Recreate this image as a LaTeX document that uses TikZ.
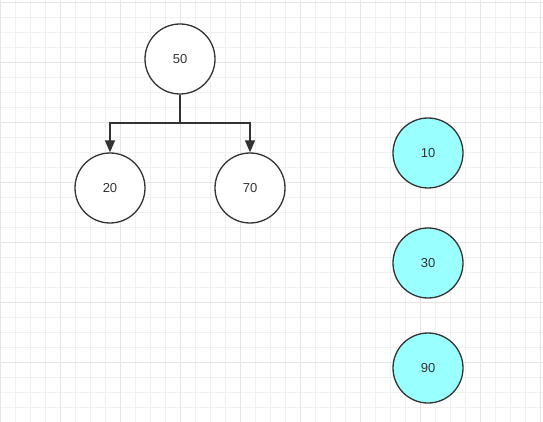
\documentclass[tikz,border=0pt]{standalone}
\usepackage{fontspec}
\setmainfont{Liberation Sans}
\usetikzlibrary{arrows.meta}

\definecolor{gridminor}{HTML}{F0F0F0}
\definecolor{gridmajor}{HTML}{E4E4E4}
\definecolor{strokegray}{HTML}{333333}
\definecolor{cyanfill}{HTML}{99FFFF}

\begin{document}
\begin{tikzpicture}[
x=1pt,y=-1pt,
every node/.style={
draw=strokegray,
circle,
line width=1.3pt,
minimum size=70pt,
inner sep=0pt,
fill=white,
text=strokegray,
font=\fontsize{13}{15}\selectfont
},
freenode/.style={fill=cyanfill},
>={Triangle[length=12pt,width=10pt]}
]

% background grid
\fill[white] (0,0) rectangle (543,422);
\useasboundingbox (0,0) rectangle (543,422);
\foreach \i in {0,...,36}
  \draw[gridminor,line width=0.8pt] (\i*15+0.5,0) -- (\i*15+0.5,422);
\foreach \j in {0,...,28}
  \draw[gridminor,line width=0.8pt] (0,\j*15+2) -- (543,\j*15+2);
\foreach \i in {0,...,9}
  \draw[gridmajor,line width=0.8pt] (\i*60+0.5,0) -- (\i*60+0.5,422);
\foreach \j in {0,...,7}
  \draw[gridmajor,line width=0.8pt] (0,\j*60+2) -- (543,\j*60+2);

% tree
\node (n50) at (180,59) {50};
\node (n20) at (110,188) {20};
\node (n70) at (250,188) {70};

% remaining values
\node[freenode] (n10) at (428,153) {10};
\node[freenode] (n30) at (428,263) {30};
\node[freenode] (n90) at (428,368) {90};

\coordinate (split) at (180,123);
\draw[strokegray,line width=1.3pt] (n50) -- (split);
\draw[->,strokegray,line width=1.3pt] (split) -| (n20);
\draw[->,strokegray,line width=1.3pt] (split) -| (n70);

\end{tikzpicture}
\end{document}
